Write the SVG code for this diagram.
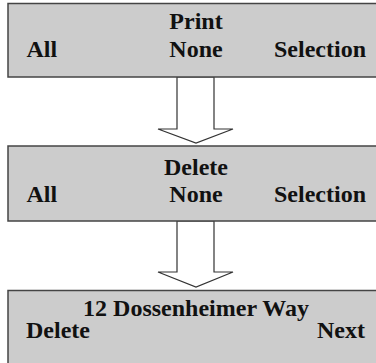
<svg xmlns="http://www.w3.org/2000/svg" width="376" height="363" viewBox="0 0 376 363">
<style>
.box{fill:#cccccc;stroke:#444444;stroke-width:1.5}
.arrow{fill:#ffffff;stroke:#333333;stroke-width:1.2;stroke-linejoin:miter}
text{font-family:"Liberation Serif","Times New Roman",serif;font-weight:bold;font-size:24px;fill:#111111}
.m{text-anchor:middle}
.e{text-anchor:end}
</style>
<rect width="376" height="363" fill="#ffffff"/>
<g id="connectors">
<polygon class="arrow" points="177,77 177,129 158,129 196,143 233,129 214,129 214,77"/>
<polygon class="arrow" points="177,221 177,272 158,272 196,287 233,272 214,272 214,221"/>
</g>
<g id="print-menu">
<rect class="box" x="8" y="3.5" width="380" height="73.5"/>
<text class="m" x="196" y="28.5">Print</text>
<text x="26.5" y="56.7">All</text>
<text class="m" x="196" y="56.7">None</text>
<text class="e" x="366" y="56.7">Selection</text>
</g>
<g id="delete-menu">
<rect class="box" x="8" y="146" width="380" height="75"/>
<text class="m" x="196" y="175">Delete</text>
<text x="26.5" y="201.7">All</text>
<text class="m" x="196" y="201.7">None</text>
<text class="e" x="366" y="201.7">Selection</text>
</g>
<g id="address">
<rect class="box" x="8" y="290.5" width="380" height="80"/>
<text class="m" x="196" y="316">12 Dossenheimer Way</text>
<text x="26" y="338">Delete</text>
<text class="e" x="365" y="338">Next</text>
</g>
</svg>
